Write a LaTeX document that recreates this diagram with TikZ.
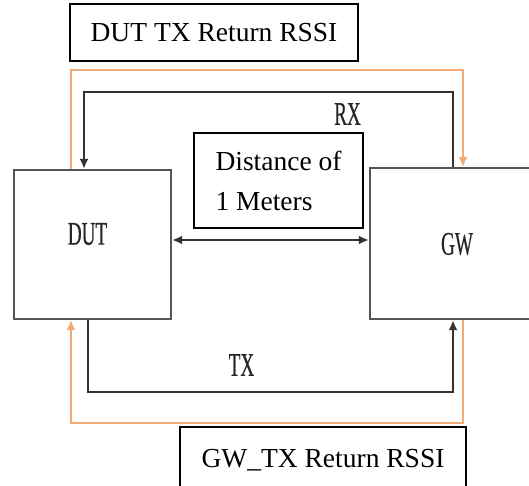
\documentclass[tikz,border=0pt]{standalone}
\usepackage{fontspec}
\setmainfont{Liberation Serif}
\newfontfamily\narrowfont[FakeStretch=0.58,FakeBold=0.4]{Liberation Serif}
\usetikzlibrary{arrows.meta,positioning}
\definecolor{rssiorange}{RGB}{240,172,120}
\definecolor{boxgray}{RGB}{85,85,85}

\begin{document}
\begin{tikzpicture}[x=1pt, y=-1pt, >={Latex[length=10pt,width=9pt]}, unit/.style={draw=boxgray, line width=2.4pt, minimum width=157pt, minimum height=149pt, inner sep=0pt}, tag/.style={draw=black, line width=2pt, inner sep=0pt, font=\fontsize{27.5}{40}\selectfont}, sig/.style={draw=black!80, line width=1.8pt}, rssi/.style={draw=rssiorange, line width=1.5pt}, lbl/.style={font=\narrowfont\fontsize{33}{35}\selectfont, inner sep=0pt, text=black!85}]
	\useasboundingbox (0,0) rectangle (529,486);
	\node[unit] (dut) at (92.5,244.5) {};
	\node[unit, minimum width=170pt, minimum height=151pt] (gw) at (455,243.5) {};
	\node[lbl] (dutname) at (87.5,234) {DUT};
	\node[lbl] (gwname) at (457,244) {GW};
	\node[tag, minimum width=288pt, minimum height=57pt] (toplab) at (214,32.5) {DUT TX Return RSSI};
	\node[tag, minimum width=286pt, minimum height=66pt] (botlab) at (323,460) {GW\_TX Return RSSI};
	\node[tag, minimum width=169pt, minimum height=95pt, align=left] (dist) at (278.5,180.5) {Distance of\\1 Meters};
	\node[lbl] (rx) at (347.5,114) {RX};
	\node[lbl] (tx) at (241.5,365) {TX};
	% corners of the loops
	\coordinate (rxr) at (453,92); \coordinate (rxl) at (84,92);
	\coordinate (txl) at (88,392); \coordinate (txr) at (453,392);
	\coordinate (otl) at (71,70); \coordinate (otr) at (463,70);
	\coordinate (obl) at (71,423); \coordinate (obr) at (463,423);
	\coordinate (mid) at (270,240);
	\draw[sig, ->] (gw.north -| rxr) -- (rxr) -- (rxl) -- (dut.north -| rxl);
	\draw[sig, ->] (dut.south -| txl) -- (txl) -- (txr) -- (gw.south -| txr);
	\draw[rssi, ->] (dut.north -| otl) -- (otl) -- (otr) -- (gw.north -| otr);
	\draw[rssi, ->] (gw.south -| obr) -- (obr) -- (obl) -- (dut.south -| obl);
	\draw[sig, <->] (dut.east |- mid) -- (gw.west |- mid);
\end{tikzpicture}
\end{document}
